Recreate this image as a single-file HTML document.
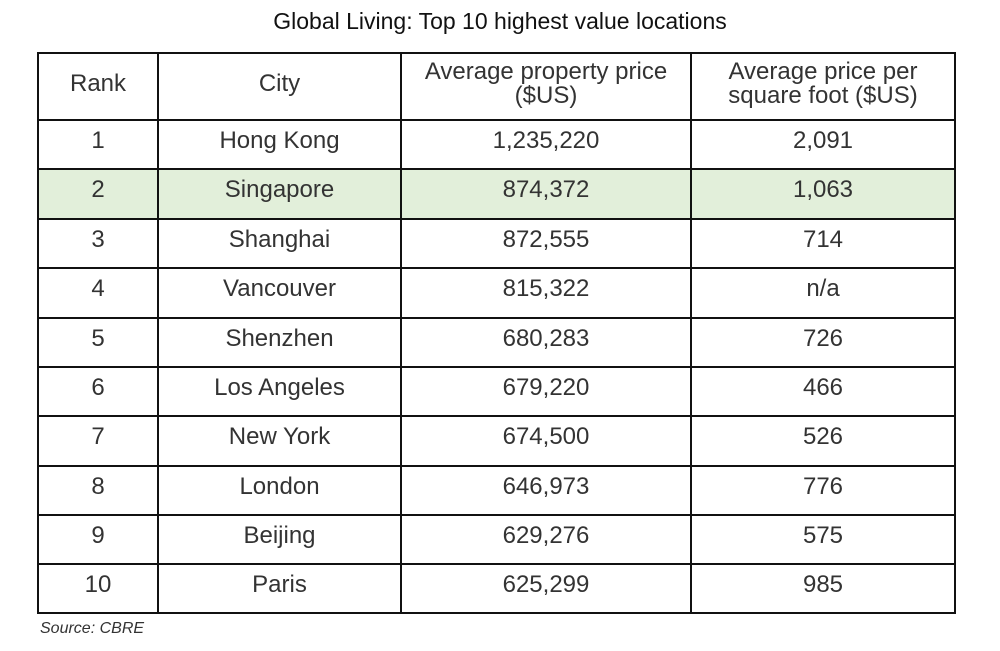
<!DOCTYPE html>
<html><head><style>
body{margin:0;width:1000px;height:651px;background:#fff;position:relative;font-family:"Liberation Sans",sans-serif;color:#222;overflow:hidden}
.t{position:absolute;left:0;width:1000px;top:8px;text-align:center;font-size:23px;color:#111}
.h,.v{position:absolute;background:#111}
.c{position:absolute;display:flex;align-items:center;justify-content:center;text-align:center;font-size:24px;color:#333;line-height:24px}
.src{position:absolute;left:40px;top:620px;font-size:16px;font-style:italic;color:#333}
</style></head><body>
<div class="t">Global Living: Top 10 highest value locations</div>
<div style="position:absolute;left:38px;top:170px;width:917px;height:49px;background:#e2efda"></div>
<div id="g"></div>
<div class="src">Source: CBRE</div>
<script>
var rows=[53,120,169,219,268,318,367,416,466,515,564,613];
var cols=[38,158,401,691,955];
var g=document.getElementById('g'),h='';
rows.forEach(function(y,i){h+='<div class="h" style="left:37px;top:'+(y-1)+'px;width:919px;height:2px"></div>';});
cols.forEach(function(x){h+='<div class="v" style="left:'+(x-1)+'px;top:52px;width:2px;height:562px"></div>';});
var d=[["Rank","City","Average property price<br>($US)","Average price per<br>square foot ($US)"],
["1","Hong Kong","1,235,220","2,091"],["2","Singapore","874,372","1,063"],["3","Shanghai","872,555","714"],
["4","Vancouver","815,322","n/a"],["5","Shenzhen","680,283","726"],["6","Los Angeles","679,220","466"],
["7","New York","674,500","526"],["8","London","646,973","776"],["9","Beijing","629,276","575"],["10","Paris","625,299","985"]];
d.forEach(function(r,i){r.forEach(function(t,j){
h+='<div class="c" style="left:'+cols[j]+'px;top:'+rows[i]+'px;width:'+(cols[j+1]-cols[j])+'px;height:'+(rows[i+1]-rows[i]-(i==0?6:8))+'px">'+t+'</div>';});});
g.innerHTML=h;
</script>
</body></html>
